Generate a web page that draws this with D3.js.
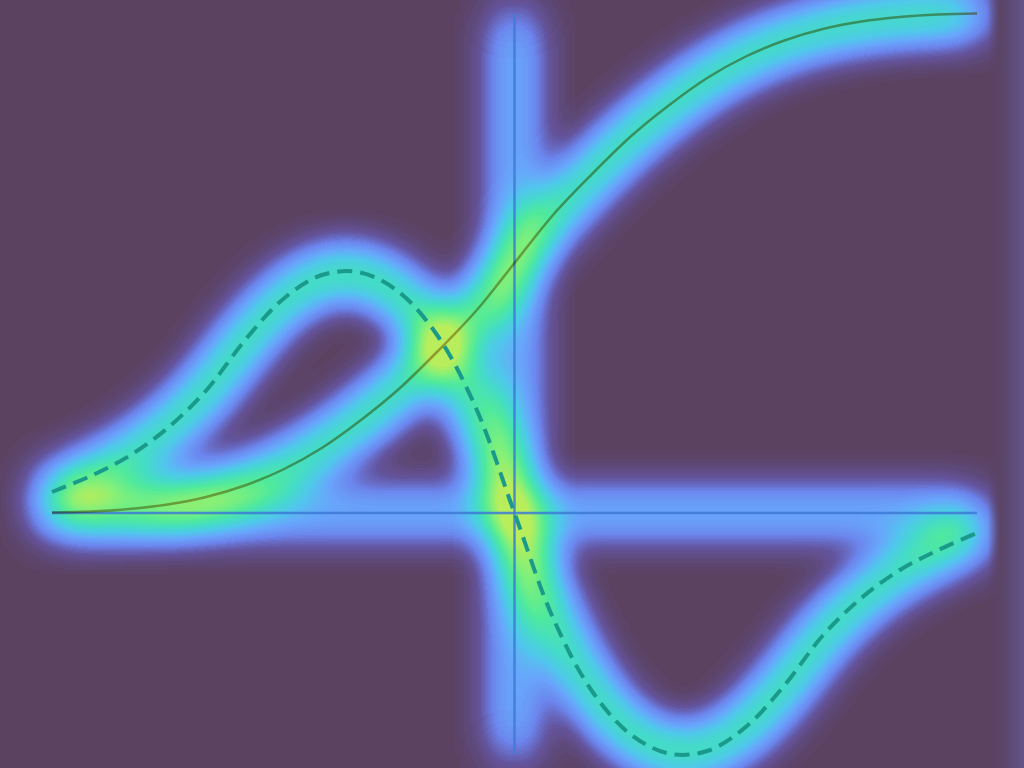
<!DOCTYPE html>
<html>
<head>
<meta charset="utf-8">
<script src="https://cdn.jsdelivr.net/npm/d3@7/dist/d3.min.js"></script>
<style>
  html, body { margin: 0; padding: 0; background: #5b4262; }
  svg { display: block; }
</style>
</head>
<body>
<svg id="chart"></svg>
<script>
const width = 1024;
const height = 768;

// sample positions along x
const xValues = [-3, -2.75, -2.5, -2.25, -2, -1.75, -1.5, -1.25, -1, -0.75, -0.5, -0.25, 0,
  0.25, 0.5, 0.75, 1, 1.25, 1.5, 1.75, 2, 2.25, 2.5, 2.75, 3];

// solid s-curve
const sigmoidValues = [0.001, 0.003, 0.008, 0.017, 0.032, 0.055, 0.087, 0.13, 0.185, 0.248, 0.323, 0.404, 0.5,
  0.596, 0.677, 0.752, 0.815, 0.87, 0.913, 0.945, 0.968, 0.983, 0.992, 0.997, 0.999];

// dashed curve
const slopeValues = [0.042, 0.074, 0.114, 0.170, 0.245, 0.345, 0.428, 0.476, 0.481, 0.442, 0.355, 0.210, 0,
  -0.210, -0.355, -0.442, -0.481, -0.476, -0.428, -0.345, -0.245, -0.170, -0.114, -0.074, -0.040];

// heat-map colour stops (low -> high)
const heatStops = ["#5b4262", "#64549e", "#6c86ee", "#69a6fc", "#50c8ec", "#44dcc8", "#50ea9c", "#7ef07c", "#b8ee5c"];

const x = d3.scaleLinear().domain(d3.extent(xValues)).range([52, 977]);
const y = d3.scaleLinear().domain([-0.484, 1]).range([755, 13]);

const solidData = xValues.map((v, i) => [v, sigmoidValues[i]]);
const dashData = xValues.map((v, i) => [v, slopeValues[i]]);
const hAxis = [[d3.min(xValues), 0], [d3.max(xValues), 0]];
const vAxis = [[0, -0.484], [0, 1]];

const line = d3.line()
	.x(d => x(d[0]))
	.y(d => y(d[1]))
	.curve(d3.curveCatmullRom.alpha(0.5));
const straight = d3.line().x(d => x(d[0])).y(d => y(d[1]));

const svg = d3.select("#chart")
	.attr("width", width)
	.attr("height", height);

const defs = svg.append("defs");

// heat filter: blur the alpha, then push it through a colour table
const filter = defs.append("filter")
	.attr("id", "heat")
	.attr("filterUnits", "userSpaceOnUse")
	.attr("x", 0).attr("y", 0)
	.attr("width", width).attr("height", height)
	.attr("color-interpolation-filters", "sRGB");

filter.append("feGaussianBlur")
	.attr("in", "SourceAlpha")
	.attr("stdDeviation", 24)
	.attr("result", "blur");

const k = 3.6;
filter.append("feColorMatrix")
	.attr("in", "blur")
	.attr("type", "matrix")
	.attr("values", `0 0 0 ${k} 0  0 0 0 ${k} 0  0 0 0 ${k} 0  0 0 0 0 1`)
	.attr("result", "level");

const rgb = heatStops.map(c => d3.rgb(c));
const transfer = filter.append("feComponentTransfer").attr("in", "level");
["R", "G", "B"].forEach(ch => {
	const key = ch.toLowerCase();
	transfer.append("feFunc" + ch)
		.attr("type", "table")
		.attr("tableValues", rgb.map(c => (c[key] / 255).toFixed(3)).join(" "));
});

const edge = defs.append("linearGradient")
	.attr("id", "edge")
	.attr("x1", "0%").attr("x2", "100%");
edge.append("stop").attr("offset", "0%").attr("stop-color", "#5b4262").attr("stop-opacity", 0);
edge.append("stop").attr("offset", "35%").attr("stop-color", "#5a4466").attr("stop-opacity", 1);
edge.append("stop").attr("offset", "100%").attr("stop-color", "#635488").attr("stop-opacity", 1);

svg.append("rect")
	.attr("width", width)
	.attr("height", height)
	.attr("fill", "#5b4262");

// heat layer
const heat = svg.append("g").attr("filter", "url(#heat)");
heat.append("rect")
	.attr("width", width).attr("height", height)
	.attr("fill", "none");
[hAxis, vAxis].forEach(d => {
	heat.append("path")
		.attr("d", straight(d))
		.attr("fill", "none")
		.attr("stroke", "#fff")
		.attr("stroke-opacity", 0.6)
		.attr("stroke-width", 10);
});
[solidData, dashData].forEach(d => {
	heat.append("path")
		.attr("d", line(d))
		.attr("fill", "none")
		.attr("stroke", "#fff")
		.attr("stroke-width", 10)
		.attr("stroke-linecap", "round");
});

svg.append("rect")
	.attr("x", 988)
	.attr("width", width - 988)
	.attr("height", height)
	.attr("fill", "url(#edge)");

// chart lines on top of the heat
svg.selectAll(".axis")
	.data([hAxis, vAxis])
	.join("path")
	.attr("class", "axis")
	.attr("d", straight)
	.attr("fill", "none")
	.attr("stroke", "#3c7ad6")
	.attr("stroke-opacity", 0.85)
	.attr("stroke-width", 2.5);

svg.append("path")
	.attr("d", line(solidData))
	.attr("fill", "none")
	.attr("stroke", "#c8a878")
	.attr("stroke-width", 2.5)
	.style("mix-blend-mode", "multiply");

svg.append("path")
	.attr("d", line(dashData))
	.attr("fill", "none")
	.attr("stroke", "#1a9a8a")
	.attr("stroke-width", 4)
	.attr("stroke-dasharray", "15,8");
</script>
</body>
</html>
